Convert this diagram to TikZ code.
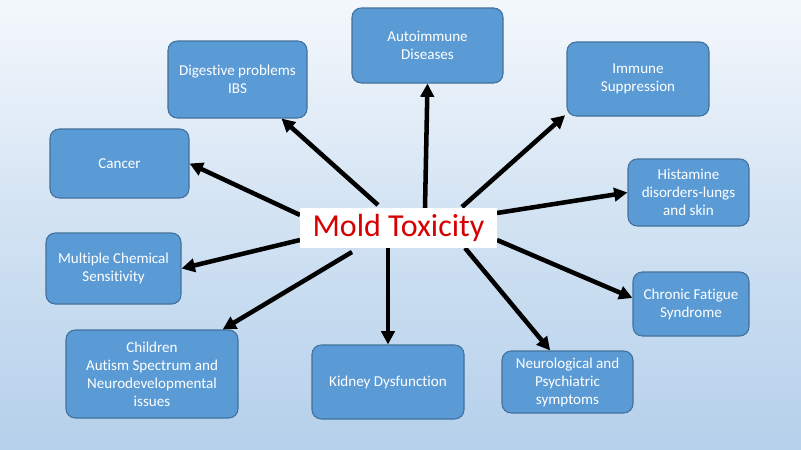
\documentclass[tikz,border=0pt]{standalone}
\usepackage{fontspec}
\setmainfont{Carlito}[Ligatures=NoCommon]
\usetikzlibrary{arrows.meta}
\definecolor{bgtop}{RGB}{244,248,252}
\definecolor{bgbot}{RGB}{181,208,235}
\definecolor{boxfill}{RGB}{91,155,213}
\definecolor{boxline}{RGB}{65,113,156}
\definecolor{moldred}{RGB}{214,0,0}
\begin{document}
\begin{tikzpicture}[x=0.75pt,y=-0.75pt,
  bx/.style 2 args={draw=boxline, line width=0.8pt, fill=boxfill, rounded corners=7pt,
    minimum width=#1*0.75pt, minimum height=#2*0.75pt, inner sep=2pt,
    text=white, align=center, font=\fontsize{11.3}{13.5}\selectfont},
  arr/.style={line width=3.4pt, -{Triangle[length=10pt,width=10pt]}}]
\shade[top color=bgtop, bottom color=bgbot, middle color=bgtop!45!bgbot] (0,0) rectangle (801,450);
\useasboundingbox (0,0) rectangle (801,450);
% boxes
\node[bx={139}{77}] (dig) at (237.5,79.5) {Digestive problems\\IBS};
\node[bx={151}{75}] (auto) at (427.5,45.5) {Autoimmune\\Diseases};
\node[bx={142}{74}] (imm) at (638,79) {Immune\\Suppression};
\node[bx={139}{69}] (cancer) at (119.5,163.5) {Cancer};
\node[bx={121}{67}] (hist) at (688.5,192.5) {Histamine\\disorders-lungs\\and skin};
\node[bx={135}{71}] (mcs) at (113.5,268.5) {Multiple Chemical\\Sensitivity};
\node[bx={116}{64}] (chron) at (691,304) {Chronic Fatigue\\Syndrome};
\node[bx={172}{88}] (child) at (152,374) {Children\\Autism Spectrum and\\Neurodevelopmental\\issues};
\node[bx={152}{74}] (kid) at (388,382) {Kidney Dysfunction};
\node[bx={131}{62}] (neuro) at (567.5,382) {Neurological and\\Psychiatric\\symptoms};
% arrow start points on the central box
\coordinate (s1) at (300,215);
\coordinate (s2) at (378,205);
\coordinate (s3) at (425,208);
\coordinate (s4) at (462,207);
\coordinate (s5) at (497,213);
\coordinate (s6) at (300,240);
\coordinate (s7) at (352,252);
\coordinate (s8) at (388,248);
\coordinate (s9) at (465,248);
\coordinate (s10) at (497,240);
\draw[arr] (s1) -- (cancer.east);
\draw[arr] (s2) -- ([xshift=33pt]dig.south);
\draw[arr] (s3) -- (auto.south);
\draw[arr] (s4) -- ([xshift=-1pt,yshift=1pt]imm.south west);
\draw[arr] (s5) -- (hist.west);
\draw[arr] (s6) -- (mcs.east);
\draw[arr] (s7) -- ([xshift=53pt]child.north);
\draw[arr] (s8) -- (kid.north);
\draw[arr] (s9) -- ([xshift=-13pt]neuro.north);
\draw[arr] (s10) -- ([yshift=4.5pt]chron.west);
% central node
\node[fill=white, minimum width=197*0.75pt, minimum height=40*0.75pt, inner sep=0pt,
  text=moldred, font=\fontsize{24}{28}\selectfont] (mold) at (398.5,228) {Mold Toxicity};
\end{tikzpicture}
\end{document}
